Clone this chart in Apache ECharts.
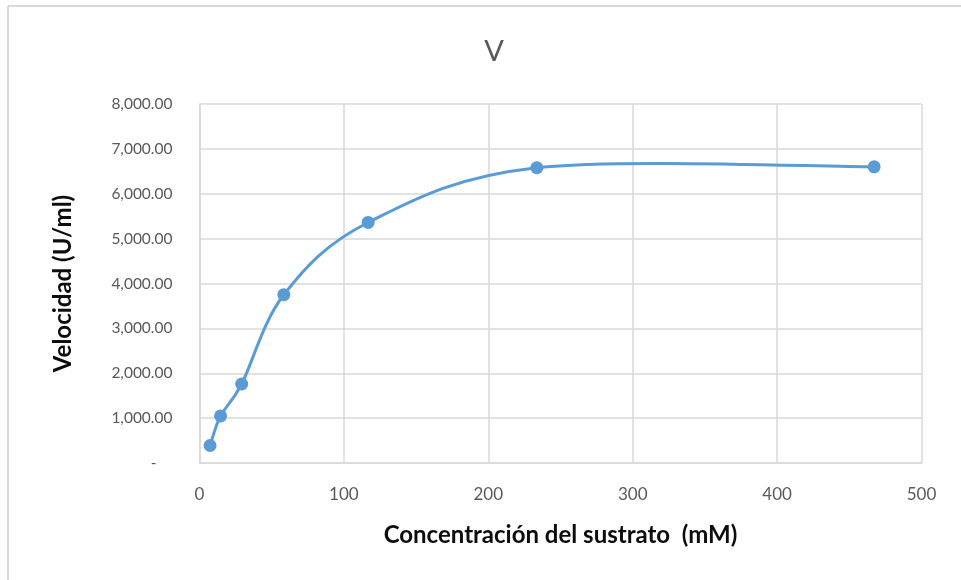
<!DOCTYPE html>
<html>
<head>
<meta charset="utf-8">
<script src="https://cdn.jsdelivr.net/npm/echarts@6/dist/echarts.min.js"></script>
<style>
html,body{margin:0;padding:0;background:#fff;}
#chart{width:961px;height:580px;}
</style>
</head>
<body>
<div id="chart"></div>
<script>
const titleText = 'V';
const xAxisName = 'Concentración del sustrato  (mM)';
const yAxisName = 'Velocidad (U/ml)';
const concentration = [7.3, 14.6, 29.2, 58.4, 116.8, 233.6, 467.2];
const velocity = [390, 1050, 1760, 3750, 5360, 6580, 6600];
const xTicks = [0, 100, 200, 300, 400, 500];
const yTicks = [0, 1000, 2000, 3000, 4000, 5000, 6000, 7000, 8000];

const chart = echarts.init(document.getElementById('chart'), null, {renderer: 'canvas'});
const font = 'Lato, "Open Sans", sans-serif';
const tickFont = 'Lato, "Open Sans", sans-serif';
const lineColor = '#5b9bd5';

function fmtY(v) {
  if (v === 0) return '-    ';
  return v.toLocaleString('en-US', {minimumFractionDigits: 2, maximumFractionDigits: 2});
}

const points = concentration.map((x, i) => [x, velocity[i]]);

// Excel-like smoothed line (Catmull-Rom style Bezier) through points, placed via the axis scales
function renderSmooth(params, api) {
  if (params.dataIndex !== 0) return null;
  const p = points.map(d => api.coord(d));
  const n = p.length;
  let d = 'M' + p[0][0] + ' ' + p[0][1];
  for (let i = 0; i < n - 1; i++) {
    const p0 = p[i - 1] || p[i];
    const p1 = p[i];
    const p2 = p[i + 1];
    const p3 = p[i + 2] || p[i + 1];
    const c1x = p1[0] + (p2[0] - p0[0]) / 6;
    const c1y = p1[1] + (p2[1] - p0[1]) / 6;
    const c2x = p2[0] - (p3[0] - p1[0]) / 6;
    const c2y = p2[1] - (p3[1] - p1[1]) / 6;
    d += ' C' + c1x + ' ' + c1y + ' ' + c2x + ' ' + c2y + ' ' + p2[0] + ' ' + p2[1];
  }
  return {
    type: 'path',
    shape: {pathData: d},
    style: {stroke: lineColor, lineWidth: 3, fill: null, lineJoin: 'round', lineCap: 'round'}
  };
}

chart.setOption({
  backgroundColor: '#ffffff',
  animation: false,
  title: {
    text: titleText,
    left: 489,
    textAlign: 'center',
    top: 32,
    textStyle: {fontFamily: font, fontSize: 29, fontWeight: 'normal', color: '#595959'}
  },
  graphic: [
    {type: 'line', shape: {x1: 8, y1: 6, x2: 961, y2: 6}, style: {stroke: '#d9d9d9', lineWidth: 2}},
    {type: 'line', shape: {x1: 8, y1: 6, x2: 8, y2: 580}, style: {stroke: '#d9d9d9', lineWidth: 2}}
  ],
  grid: {left: 199.5, right: 39.5, top: 104, bottom: 117},
  xAxis: {
    type: 'value',
    min: xTicks[0],
    max: xTicks[xTicks.length - 1],
    interval: 100,
    name: xAxisName,
    nameLocation: 'middle',
    nameGap: 60,
    nameTextStyle: {fontFamily: font, fontSize: 24, fontWeight: 'bold', color: '#0d0d0d'},
    axisLine: {show: true, lineStyle: {color: '#d9d9d9', width: 1.5}},
    axisTick: {show: false},
    axisLabel: {fontFamily: tickFont, fontSize: 17, color: '#595959', margin: 23},
    splitLine: {show: true, lineStyle: {color: '#d9d9d9', width: 1.5}}
  },
  yAxis: {
    type: 'value',
    min: yTicks[0],
    max: yTicks[yTicks.length - 1],
    interval: 1000,
    name: yAxisName,
    nameLocation: 'middle',
    nameGap: 124,
    nameTextStyle: {fontFamily: font, fontSize: 24, fontWeight: 'bold', color: '#0d0d0d'},
    axisLine: {show: true, lineStyle: {color: '#d9d9d9', width: 1.5}},
    axisTick: {show: false},
    axisLabel: {fontFamily: tickFont, fontSize: 15.5, color: '#595959', margin: 27, formatter: fmtY},
    splitLine: {show: true, lineStyle: {color: '#d9d9d9', width: 1.5}}
  },
  series: [{
    type: 'custom',
    renderItem: renderSmooth,
    data: points,
    encode: {x: 0, y: 1},
    z: 2
  }, {
    type: 'scatter',
    data: points,
    symbol: 'circle',
    symbolSize: 13,
    itemStyle: {color: lineColor, opacity: 1},
    z: 3
  }]
});
</script>
</body>
</html>
